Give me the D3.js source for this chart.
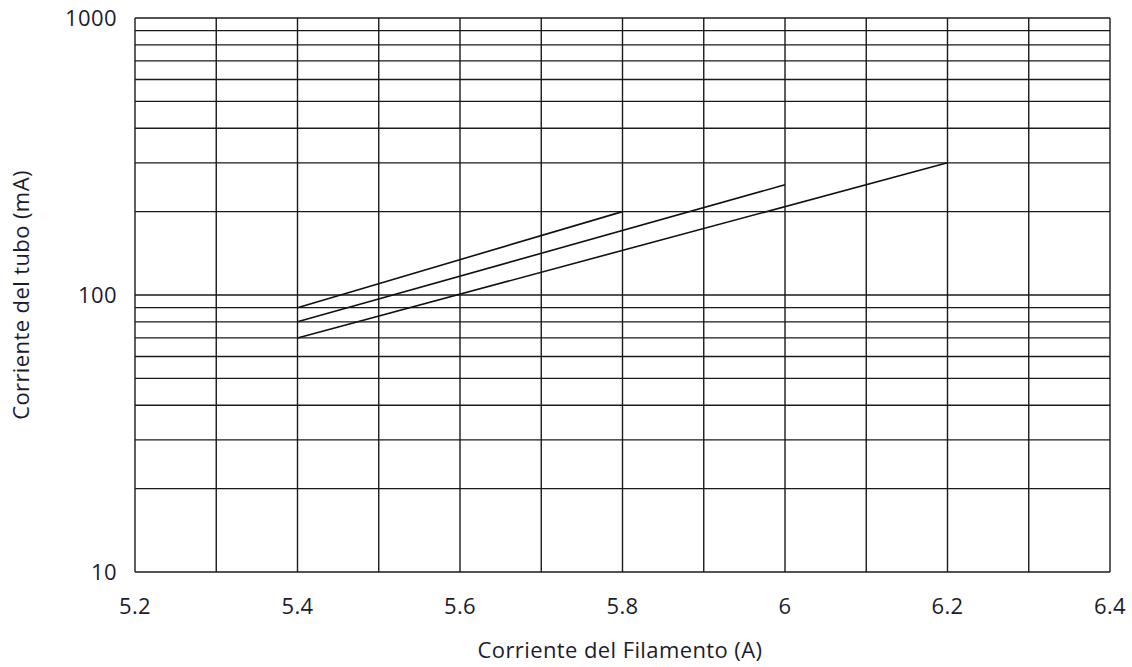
<!DOCTYPE html>
<html>
<head>
<meta charset="utf-8">
<script src="https://cdn.jsdelivr.net/npm/d3@7"></script>
<style>
  body { margin: 0; background: #fff; }
  text { font-family: "Open Sans", sans-serif; fill: #1c1c2e; letter-spacing: 0.4px; }
</style>
</head>
<body>
<svg id="chart" width="1132" height="667"></svg>
<script>
// data (filament current in A, tube current in mA)
var curveStartX = [5.4, 5.4, 5.4];
var curveEndX = [5.8, 6.0, 6.2];
var curveStartY = [90, 80, 70];
var curveEndY = [200, 250, 300];

var xTicks = [5.2, 5.4, 5.6, 5.8, 6.0, 6.2, 6.4];
var xGrid = [5.2, 5.3, 5.4, 5.5, 5.6, 5.7, 5.8, 5.9, 6.0, 6.1, 6.2, 6.3, 6.4];
var yTicks = [10, 100, 1000];
var yGrid = [10, 20, 30, 40, 50, 60, 70, 80, 90, 100, 200, 300, 400, 500, 600, 700, 800, 900, 1000];

var margin = { top: 18, right: 22, bottom: 95, left: 135 };
var svg = d3.select("#chart");
var width = 1132, height = 667;

var x = d3.scaleLinear()
  .domain([5.2, 6.4])
  .range([margin.left, width - margin.right]);

var y = d3.scaleLog()
  .domain([10, 1000])
  .range([height - margin.bottom, margin.top]);

// grid
var grid = svg.append("g").attr("stroke", "#1a1a1a").attr("stroke-width", 1.4);

grid.selectAll(".vg")
  .data(xGrid)
  .join("line")
  .attr("class", "vg")
  .attr("x1", d => x(d)).attr("x2", d => x(d))
  .attr("y1", y(10)).attr("y2", y(1000));

grid.selectAll(".hg")
  .data(yGrid)
  .join("line")
  .attr("class", "hg")
  .attr("x1", x(5.2)).attr("x2", x(6.4))
  .attr("y1", d => y(d)).attr("y2", d => y(d));

// curves
var curves = curveStartX.map((d, i) => [[d, curveStartY[i]], [curveEndX[i], curveEndY[i]]]);
var line = d3.line().x(d => x(d[0])).y(d => y(d[1]));

svg.append("g")
  .selectAll("path")
  .data(curves)
  .join("path")
  .attr("d", line)
  .attr("fill", "none")
  .attr("stroke", "#111")
  .attr("stroke-width", 1.6);

// tick labels
svg.append("g")
  .selectAll("text")
  .data(xTicks)
  .join("text")
  .attr("x", d => x(d))
  .attr("y", 614)
  .attr("text-anchor", "middle")
  .style("font-size", "22px")
  .text(d => d3.format("")(d));

svg.append("g")
  .selectAll("text")
  .data(yTicks)
  .join("text")
  .attr("x", 117)
  .attr("y", d => y(d) + 8)
  .attr("text-anchor", "end")
  .style("font-size", "22px")
  .text(d => d);

// axis titles
svg.append("text")
  .attr("x", 620)
  .attr("y", 658)
  .attr("text-anchor", "middle")
  .style("font-size", "22px")
  .text("Corriente del Filamento (A)");

svg.append("text")
  .attr("transform", "translate(29,295) rotate(-90)")
  .attr("text-anchor", "middle")
  .style("font-size", "22px")
  .text("Corriente del tubo (mA)");
</script>
</body>
</html>
